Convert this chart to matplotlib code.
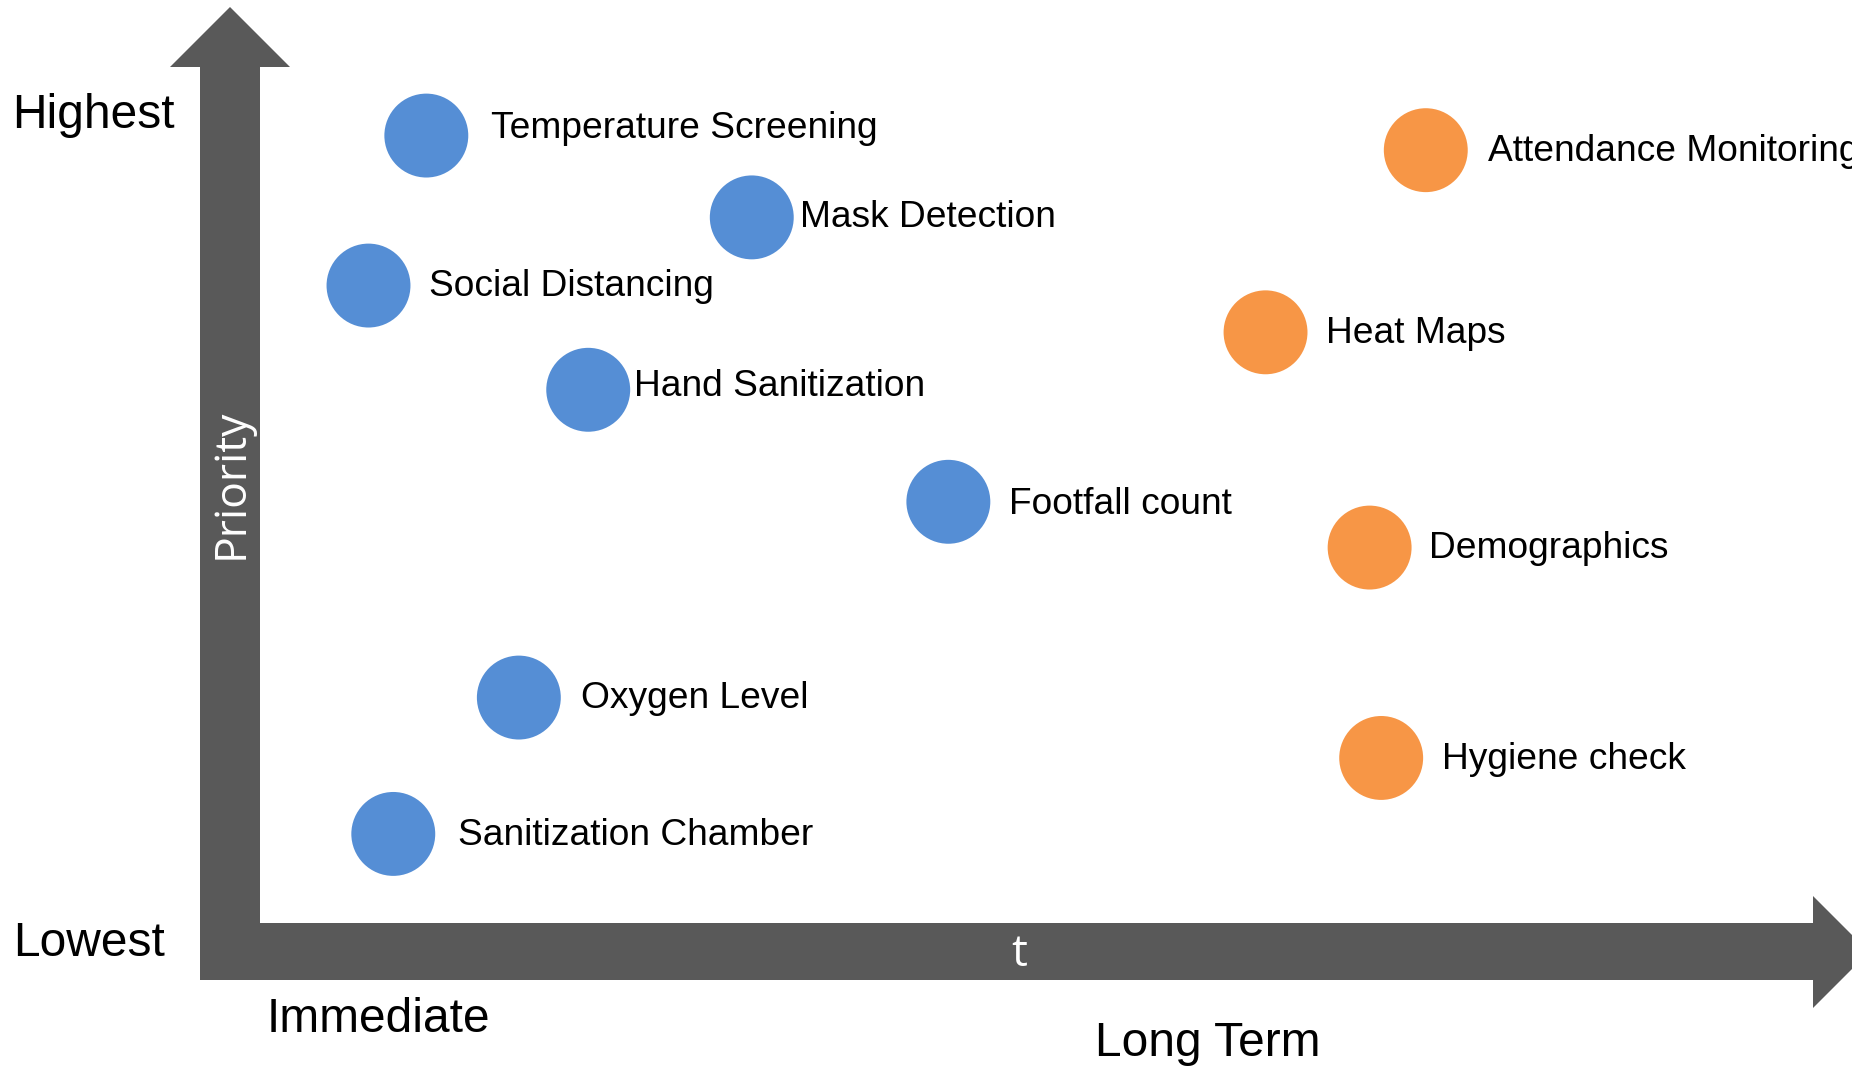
import matplotlib.pyplot as plt
from matplotlib.patches import Polygon

# things to do now (blue) -- time on x, priority on y
now_names = ['Temperature Screening', 'Mask Detection', 'Social Distancing',
             'Hand Sanitization', 'Footfall count', 'Oxygen Level',
             'Sanitization Chamber']
now_time = [1.37, 3.34, 1.02, 2.35, 4.53, 1.93, 1.17]
now_priority = [8.68, 7.84, 7.14, 6.07, 4.92, 2.91, 1.51]

# long term things (orange)
later_names = ['Attendance Monitoring', 'Heat Maps', 'Demographics', 'Hygiene check']
later_time = [7.42, 6.45, 7.08, 7.15]
later_priority = [8.53, 6.66, 4.45, 2.29]

# label nudges in pixels (right, up)
now_dx = [65, 48, 60, 46, 61, 62, 65]
now_dy = [11, 4, 3, 7, 1, 3, 2]
later_dx = [62, 60, 59, 61]
later_dy = [3, 3, 3, 2]

BLUE = '#558ED5'
ORANGE = '#F79646'
GREY = '#595959'
W, H = 1852, 1068
PX = 72.0 / 100  # pixel -> points at dpi 100

fig = plt.figure(figsize=(W / 100.0, H / 100.0), dpi=100, facecolor='white')

# background layer in pixel units: the big L-shaped arrow pair and the corner words
bg = fig.add_axes([0, 0, 1, 1])
bg.set_xlim(0, W)
bg.set_ylim(H, 0)
bg.axis('off')

arrows = [(200, 980), (200, 67), (170, 67), (230, 7), (290, 67), (260, 67),
          (260, 923), (1813, 923), (1813, 896), (1869, 952), (1813, 1008),
          (1813, 980)]
bg.add_patch(Polygon(arrows, closed=True, fc=GREY, ec='none', clip_on=False))

bg.text(231, 484, 'Priority', color='white', rotation=90, ha='center', va='center',
        fontsize=32, family='Open Sans')
bg.text(1019, 955, 't', color='white', ha='center', va='center',
        fontsize=32, family='Open Sans')

corner = dict(fontsize=34.5, family='Liberation Sans', color='black', va='center_baseline')
bg.text(12, 110, 'Highest', ha='left', **corner)
bg.text(13, 939, 'Lowest', ha='left', **corner)
bg.text(267, 1014, 'Immediate', ha='left', **corner)
bg.text(1095, 1039, 'Long Term', ha='left', **corner)

# data layer
ax = fig.add_axes([200.0 / W, 87.0 / H, 1652.0 / W, 974.0 / H])
ax.set_xlim(0, 10)
ax.set_ylim(0, 10)
ax.axis('off')
ax.patch.set_alpha(0)

ax.scatter(now_time, now_priority, s=3650, c=BLUE, edgecolors='none', clip_on=False)
ax.scatter(later_time, later_priority, s=3650, c=ORANGE, edgecolors='none', clip_on=False)

for names, xs, ys, dxs, dys in [(now_names, now_time, now_priority, now_dx, now_dy),
                                 (later_names, later_time, later_priority, later_dx, later_dy)]:
    for name, x, y, dx, dy in zip(names, xs, ys, dxs, dys):
        ax.annotate(name, (x, y), xytext=(dx * PX, dy * PX), textcoords='offset points',
                    ha='left', va='center_baseline', fontsize=26.7,
                    family='Liberation Sans', annotation_clip=False)

fig.savefig('out.png', dpi=100, facecolor='white')
